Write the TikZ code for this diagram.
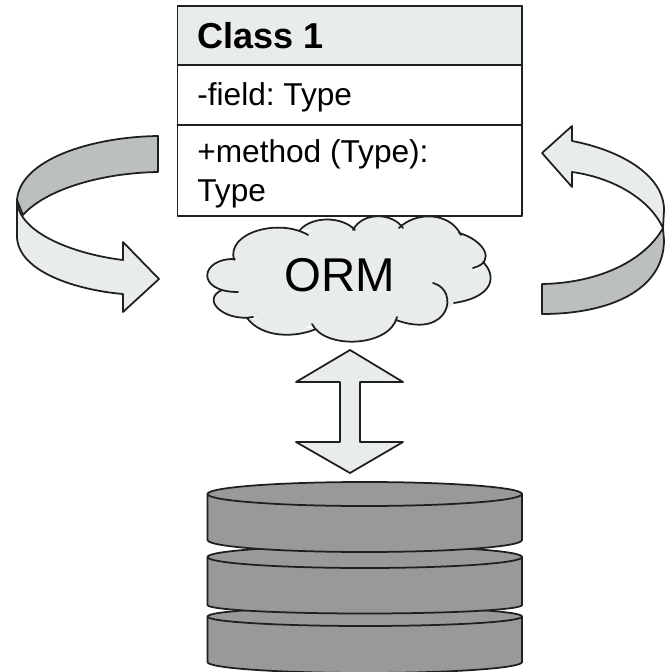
\documentclass[tikz,border=0pt]{standalone}
\usepackage{fontspec}
\setmainfont{Liberation Sans}
\frenchspacing
\definecolor{lite}{rgb}{0.91,0.925,0.93}
\definecolor{band}{rgb}{0.733,0.75,0.75}
\definecolor{disk}{rgb}{0.6,0.6,0.6}
\definecolor{ink}{rgb}{0.12,0.12,0.12}
\tikzset{
  shape line/.style={draw=ink,line width=1pt},
  uml text/.style={anchor=base west,inner sep=0pt,font=\fontsize{18}{20}\selectfont,text=black}
}
\def\cloudlobes{
  (234,260) .. controls (226,232) and (280,218) .. (308,235)
  (300,230) .. controls (312,216) and (342,216) .. (355,230)
  (353,230) .. controls (362,212) and (392,212) .. (403,228)
  (399,228) .. controls (416,211) and (450,212) .. (461,235)
  (459,233) .. controls (484,240) and (497,262) .. (473,268)
  (483,262) .. controls (497,276) and (494,297) .. (454,303)
  (433,283) .. controls (460,290) and (450,340) .. (396,320)
  (397,317) .. controls (390,347) and (325,350) .. (312,324)
  (316,329) .. controls (295,338) and (262,338) .. (247,318)
  (253,317) .. controls (225,322) and (200,300) .. (222,290)
  (238,292) .. controls (195,292) and (200,258) .. (235,259)
}
\begin{document}
\begin{tikzpicture}[line cap=round,line join=round,x=0.02cm,y=-0.02cm]
\useasboundingbox (0,0) rectangle (670,672);
% class box
\draw[shape line,fill=white] (177.5,6) rectangle (522,216);
\draw[shape line,fill=lite] (177.5,6) rectangle (522,65);
\draw[shape line] (177.5,125) -- (522,125);
\node[uml text,font=\fontsize{20.5}{22}\selectfont\bfseries] (classname) at (197,49) {Class 1};
\node[uml text] (fieldline) at (197,106) {-field: Type};
\node[uml text] (methodline) at (197,163) {+method (Type):};
\node[uml text] (typeline) at (197,201) {Type};
% left arrow
\draw[shape line,fill=band] (158,136) .. controls (90,137) and (20,160) .. (17,200) -- (23,215) .. controls (45,190) and (100,173) .. (158,172) -- cycle;
\draw[shape line,fill=lite] (17,200) .. controls (18,235) and (80,255) .. (123,260) -- (123,242) -- (159,279) -- (123,312) -- (123,294) .. controls (85,291) and (20,275) .. (17,238) -- cycle;
% right arrow
\draw[shape line,fill=lite] (664,210) .. controls (664,175) and (620,150) .. (572,141) -- (572,126) -- (542,153) -- (572,187) -- (572,172) .. controls (615,178) and (650,200) .. (663,228) -- cycle;
\draw[shape line,fill=band] (663,228) .. controls (645,260) and (600,283) .. (542,284) -- (542,314) .. controls (610,314) and (664,290) .. (664,240) -- cycle;
% cloud
\fill[lite] \cloudlobes;
\fill[lite] (234,260) -- (277,232) -- (304,233) -- (330,225) -- (354,231) -- (378,222) -- (401,229) -- (432,222) -- (460,234) -- (475,250) -- (474,267) -- (480,285) -- (455,303) -- (440,315) -- (397,319) -- (355,335) -- (314,326) -- (290,328) -- (250,317) -- (225,305) -- (222,291) -- (215,278) -- cycle;
\draw[ink,line width=1pt] \cloudlobes;
\node[inner sep=0pt,font=\fontsize{27}{30}\selectfont] (ormlabel) at (340,275.5) {ORM};
% double arrow
\draw[shape line,fill=lite] (350,350) -- (403,382) -- (360,382) -- (360,442) -- (403,442) -- (350,473) -- (296,442) -- (340,442) -- (340,382) -- (296,382) -- cycle;
% disks
\foreach \ytop/\ybot/\rtop/\rbot in {616.5/662/9.5/11,557/605/11/8.5,494/540/12/12} {
  \draw[shape line,fill=disk] (207.5,\ytop) -- (207.5,\ybot) arc[start angle=180,end angle=0,x radius=157.25,y radius=\rbot] -- (522,\ytop) arc[start angle=360,end angle=180,x radius=157.25,y radius=\rtop] -- cycle;
  \draw[shape line] (207.5,\ytop) arc[start angle=180,end angle=0,x radius=157.25,y radius=\rtop];
}
\end{tikzpicture}
\end{document}
